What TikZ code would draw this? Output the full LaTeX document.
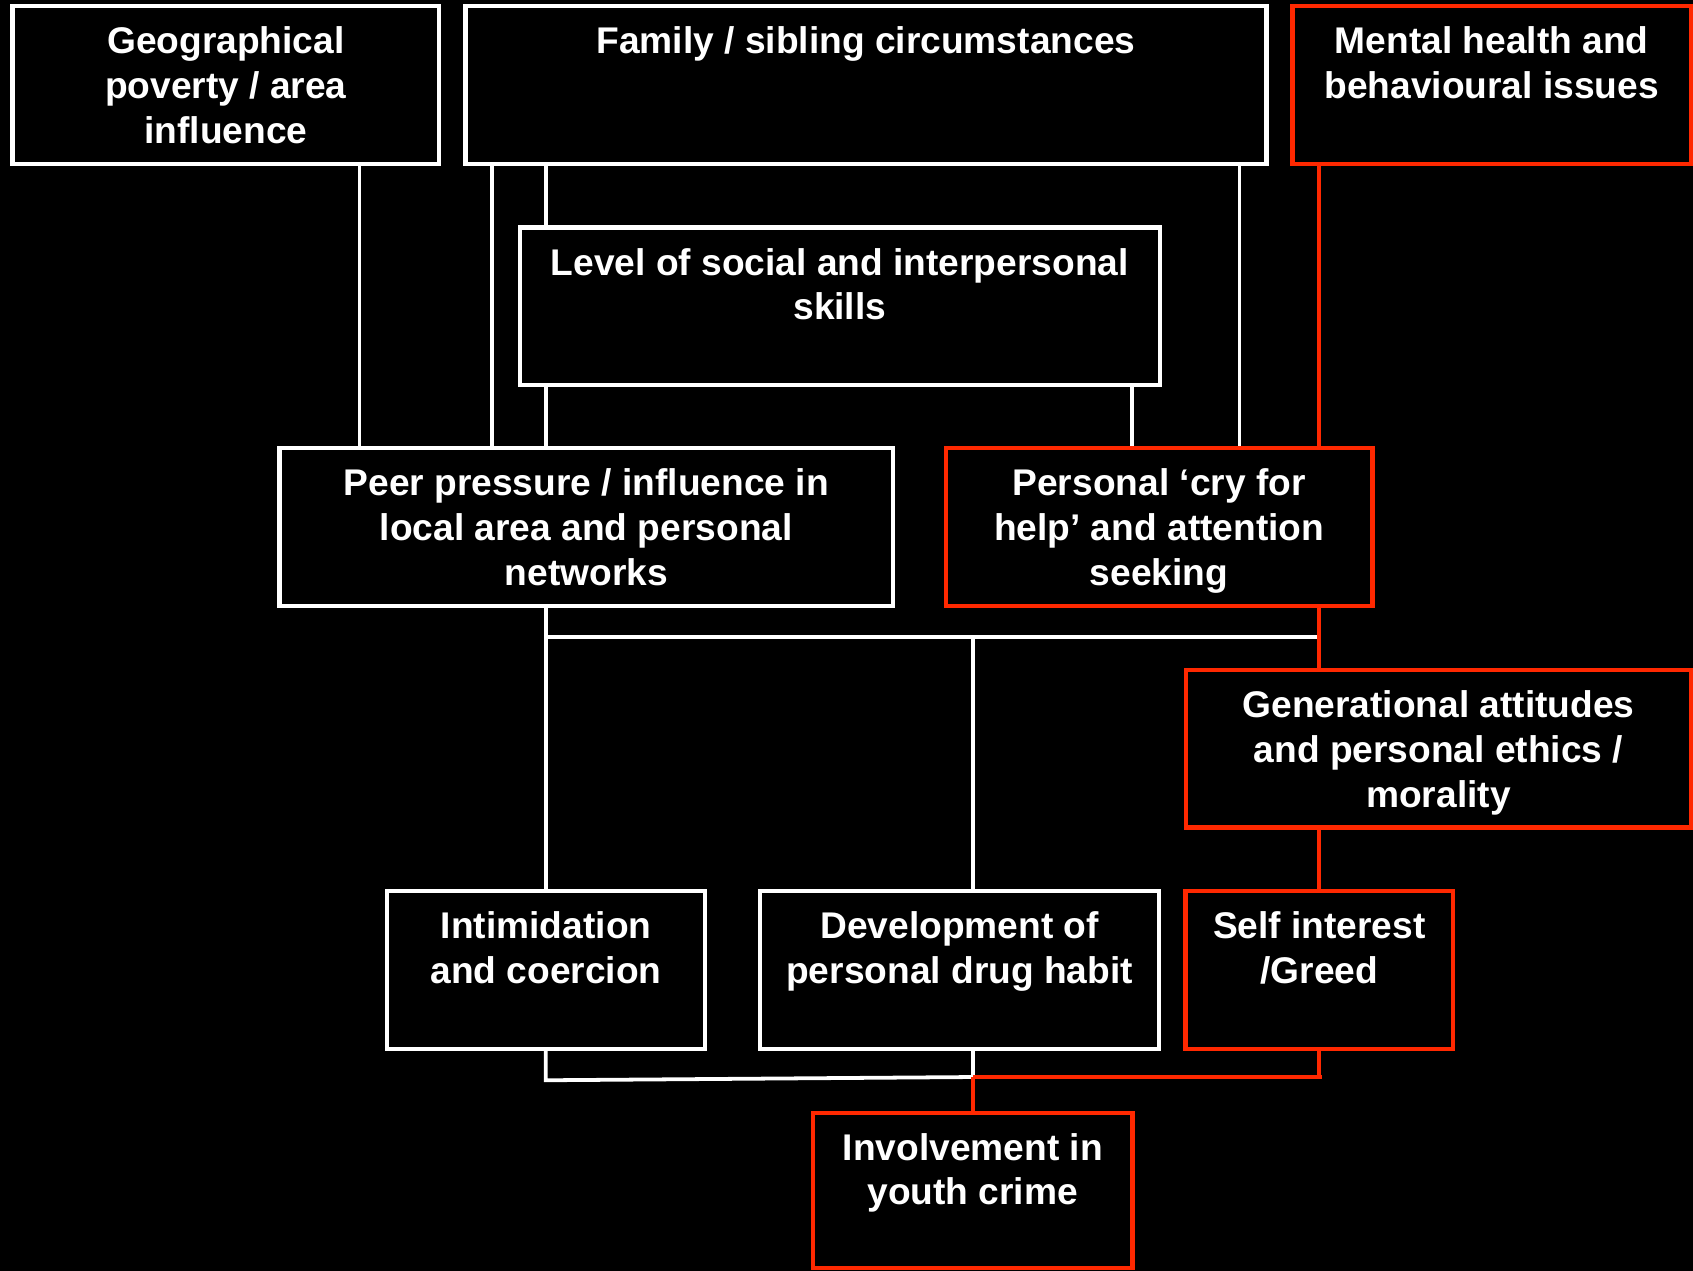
\documentclass[tikz,border=0pt]{standalone}
\usepackage{fontspec}
\setmainfont{Liberation Sans}
\usetikzlibrary{backgrounds}
\definecolor{crimered}{RGB}{255,40,0}
\newcommand\cellt[3]{\parbox[c][#2][t]{#1}{\centering\rule{0pt}{22pt}#3}}
\tikzset{
  cbox/.style={draw=white, line width=2pt, fill=black, inner sep=0pt, text=white,
    font=\bfseries\fontsize{17.2pt}{20.75pt}\selectfont},
  rbox/.style={cbox, draw=crimered},
  wire/.style={draw=white, line width=1.75pt},
  redwire/.style={draw=crimered, line width=1.9pt},
}
\begin{document}
\begin{tikzpicture}[x=0.5pt,y=-0.5pt]
\useasboundingbox (0,0) rectangle (1568,1177);
% boxes
\node[cbox] (geo) at (209.2,78.7) {\cellt{197.65pt}{73pt}{Geographical\\poverty / area\\influence}};
\node[cbox] (family) at (802,78.7) {\cellt{371pt}{73pt}{Family / sibling circumstances}};
\node[rbox] (mental) at (1381.5,78.7) {\cellt{184.5pt}{73pt}{Mental health and\\behavioural issues}};
\node[cbox] (level) at (777.8,283.8) {\cellt{296.25pt}{73pt}{Level of social and interpersonal\\skills}};
\node[cbox] (peer) at (543,488) {\cellt{284pt}{73pt}{Peer pressure / influence in\\local area and personal\\networks}};
\node[rbox] (personal) at (1073.5,488) {\cellt{197.5pt}{73pt}{Personal ‘cry for\\help’ and attention\\seeking}};
\node[rbox] (gen) at (1332.3,693.5) {\cellt{233.75pt}{73pt}{Generational attitudes\\and personal ethics /\\morality}};
\node[cbox] (intim) at (505.8,898.3) {\cellt{147.25pt}{73pt}{Intimidation\\and coercion}};
\node[cbox] (devel) at (888.7,898.3) {\cellt{184.7pt}{73pt}{Development of\\personal drug habit}};
\node[rbox] (self) at (1221.9,898.3) {\cellt{123.85pt}{73pt}{Self interest\\/Greed}};
\node[rbox] (invol) at (900.9,1102.5) {\cellt{147.9pt}{72pt}{Involvement in\\youth crime}};
% connector positions
\coordinate (xa) at (333,0);
\coordinate (xb) at (456,0);
\coordinate (xc) at (505.5,0);
\coordinate (xd) at (1048.5,0);
\coordinate (xe) at (1148,0);
\coordinate (xr) at (1222,0);
\coordinate (xm) at (901,0);
\coordinate (j1) at (505.5,590);
\coordinate (j2) at (901,590);
\coordinate (j3) at (1222,590);
\coordinate (k1) at (505.5,1000.5);
\coordinate (k2) at (901,997.5);
\coordinate (k3) at (1224,997.5);
\begin{pgfonlayer}{background}
\fill[black] (0,0) rectangle (1568,1177);
% white connectors
\draw[wire] (geo.south -| xa) -- (peer.north -| xa);
\draw[wire] (family.south -| xb) -- (peer.north -| xb);
\draw[wire] (family.south -| xc) -- (level.north -| xc);
\draw[wire] (level.south -| xc) -- (peer.north -| xc);
\draw[wire] (level.south -| xd) -- (personal.north -| xd);
\draw[wire] (family.south -| xe) -- (personal.north -| xe);
\draw[wire] (peer.south -| xc) -- (j1) -- (j3);
\draw[wire] (j1) -- (intim.north -| j1);
\draw[wire] (j2) -- (devel.north -| j2);
\draw[wire] (intim.south -| k1) -- (k1) -- (k2);
\draw[wire] (devel.south -| k2) -- (k2);
% red connectors
\draw[redwire] (mental.south -| xr) -- (personal.north -| xr);
\draw[redwire] (personal.south -| xr) -- (gen.north -| xr);
\draw[redwire] (gen.south -| xr) -- (self.north -| xr);
\draw[redwire] (self.south -| xr) -- (xr |- k3);
\draw[redwire] (k2) -- (k3);
\draw[redwire] (k2) -- (invol.north -| k2);
\end{pgfonlayer}
\end{tikzpicture}
\end{document}
